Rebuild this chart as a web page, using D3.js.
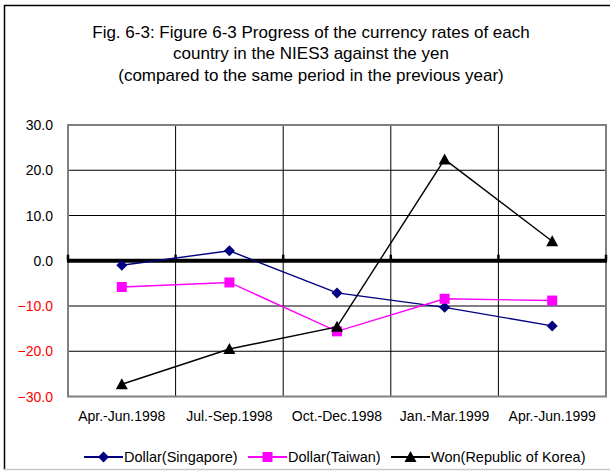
<!DOCTYPE html>
<html>
<head>
<meta charset="utf-8">
<script src="https://cdn.jsdelivr.net/npm/d3@7"></script>
<style>
  body { margin: 0; background: #fff; }
  svg { font-family: "Liberation Sans", Arial, sans-serif; }
</style>
</head>
<body>
<svg id="chart" width="610" height="471"></svg>
<script>
const periods = ['Apr.-Jun.1998', 'Jul.-Sep.1998', 'Oct.-Dec.1998', 'Jan.-Mar.1999', 'Apr.-Jun.1999']
const singapore = [-1.0, 2.2, -7.1, -10.3, -14.4]
const taiwan = [-5.8, -4.8, -15.6, -8.4, -8.8]
const korea = [-27.3, -19.5, -14.6, 22.4, 4.3]
const yTicks = [30, 20, 10, 0, -10, -20, -30]
const titleLines = [
    'Fig. 6-3: Figure 6-3 Progress of the currency rates of each',
    'country in the NIES3 against the yen',
    '(compared to the same period in the previous year)'
]

const series = [
    { name: 'Dollar(Singapore)', values: singapore, color: '#000080', marker: 'diamond' },
    { name: 'Dollar(Taiwan)', values: taiwan, color: '#ff00ff', marker: 'square' },
    { name: 'Won(Republic of Korea)', values: korea, color: '#000000', marker: 'triangle' }
]

const svg = d3.select('#chart')
const plotLeft = 68, plotRight = 606, plotTop = 125, plotBottom = 396.5

// outer frame (left + top black, bottom light)
svg.append('line')
    .attr('x1', 4.5).attr('x2', 4.5).attr('y1', 5).attr('y2', 470)
    .attr('stroke', '#000').attr('stroke-width', 1.5)
svg.append('line')
    .attr('x1', 4).attr('x2', 610).attr('y1', 5.5).attr('y2', 5.5)
    .attr('stroke', '#000').attr('stroke-width', 1.5)
svg.append('line')
    .attr('x1', 4).attr('x2', 610).attr('y1', 469.5).attr('y2', 469.5)
    .attr('stroke', '#c8c8c8').attr('stroke-width', 1.5)

svg.append('g').selectAll('text')
    .data(titleLines)
    .enter()
    .append('text')
    .attr('x', 311)
    .attr('y', (d, i) => 37.5 + i * 21.5)
    .attr('text-anchor', 'middle')
    .attr('font-size', 17)
    .attr('fill', '#000')
    .text(d => d)

const x = d3.scaleBand().domain(periods).range([plotLeft, plotRight])
const y = d3.scaleLinear().domain([-30, 30]).range([plotBottom, plotTop])

// grid
svg.append('g').selectAll('line')
    .data(yTicks.filter(t => t !== 0 && Math.abs(t) !== 30))
    .enter()
    .append('line')
    .attr('x1', plotLeft).attr('x2', plotRight)
    .attr('y1', d => y(d)).attr('y2', d => y(d))
    .attr('stroke', '#000').attr('stroke-width', 1)

svg.append('g').selectAll('line')
    .data(periods.slice(1))
    .enter()
    .append('line')
    .attr('x1', d => x(d)).attr('x2', d => x(d))
    .attr('y1', plotTop).attr('y2', plotBottom)
    .attr('stroke', '#000').attr('stroke-width', 1)

// plot border
svg.append('rect')
    .attr('x', plotLeft).attr('y', plotTop)
    .attr('width', plotRight - plotLeft).attr('height', plotBottom - plotTop)
    .attr('fill', 'none').attr('stroke', '#808080').attr('stroke-width', 2)

// zero axis with tick marks
svg.append('line')
    .attr('x1', plotLeft - 1).attr('x2', plotRight + 1)
    .attr('y1', y(0)).attr('y2', y(0))
    .attr('stroke', '#000').attr('stroke-width', 4)

svg.append('g').selectAll('line')
    .data([...periods.map(p => x(p)), plotRight])
    .enter()
    .append('line')
    .attr('x1', d => d).attr('x2', d => d)
    .attr('y1', y(0) - 6).attr('y2', y(0))
    .attr('stroke', '#000').attr('stroke-width', 2.5)

// y labels
svg.append('g').selectAll('text')
    .data(yTicks)
    .enter()
    .append('text')
    .attr('x', 53)
    .attr('y', d => y(d) + 5)
    .attr('text-anchor', 'end')
    .attr('font-size', 14)
    .attr('fill', d => d < 0 ? '#ff0000' : '#000')
    .text(d => d3.format('.1f')(d))

// x labels
svg.append('g').selectAll('text')
    .data(periods)
    .enter()
    .append('text')
    .attr('x', d => x(d) + x.bandwidth() / 2)
    .attr('y', 421)
    .attr('text-anchor', 'middle')
    .attr('font-size', 14)
    .attr('fill', '#000')
    .text(d => d)

const drawMarker = (g, type, color, cx, cy) => {
    if (type === 'diamond') {
        g.append('path')
            .attr('d', `M${cx},${cy - 5.5}L${cx + 5.5},${cy}L${cx},${cy + 5.5}L${cx - 5.5},${cy}Z`)
            .attr('fill', color)
    } else if (type === 'square') {
        g.append('rect')
            .attr('x', cx - 5).attr('y', cy - 5)
            .attr('width', 10).attr('height', 10)
            .attr('fill', color)
    } else {
        g.append('path')
            .attr('d', `M${cx},${cy - 6}L${cx + 6},${cy + 5}L${cx - 6},${cy + 5}Z`)
            .attr('fill', color)
    }
}

const line = d3.line()
    .x((d, i) => x(periods[i]) + x.bandwidth() / 2)
    .y(d => y(d))

series.forEach(s => {
    const g = svg.append('g')
    g.append('path')
        .attr('d', line(s.values))
        .attr('fill', 'none')
        .attr('stroke', s.color)
        .attr('stroke-width', 1.4)
    s.values.forEach((v, i) => {
        drawMarker(g, s.marker, s.color, x(periods[i]) + x.bandwidth() / 2, y(v))
    })
})

// legend
const legendX = [84, 248, 391]
series.forEach((s, i) => {
    const g = svg.append('g')
    const lx = legendX[i], ly = 457
    g.append('line')
        .attr('x1', lx).attr('x2', lx + 39)
        .attr('y1', ly).attr('y2', ly)
        .attr('stroke', s.color).attr('stroke-width', 2)
    drawMarker(g, s.marker, s.color, lx + 19.5, ly)
    g.append('text')
        .attr('x', lx + 40)
        .attr('y', ly + 5)
        .attr('font-size', 14.5)
        .attr('fill', '#000')
        .text(s.name)
})
</script>
</body>
</html>
